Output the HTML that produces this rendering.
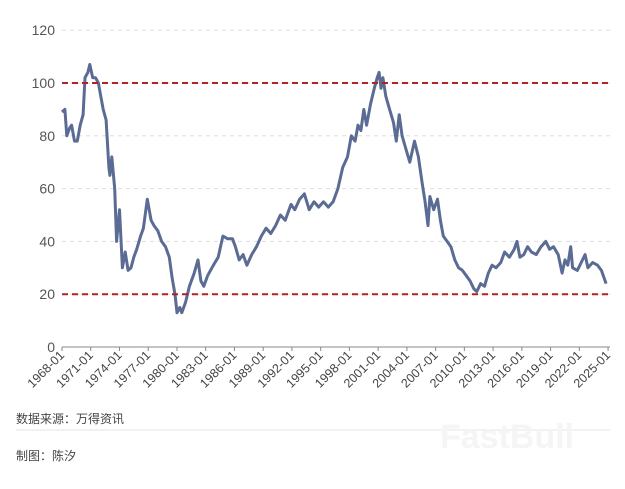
<!DOCTYPE html>
<html><head><meta charset="utf-8"><style>
body{margin:0;background:#fff;width:625px;height:484px;overflow:hidden;font-family:"Liberation Sans","Noto Sans CJK SC",sans-serif}
</style></head><body>
<svg id="s" width="625" height="484" xmlns="http://www.w3.org/2000/svg" font-family="Liberation Sans, Noto Sans CJK SC, sans-serif"></svg>
<script>
const s=document.getElementById('s');
const X=y=>62+(y-1968)*9.58, Y=v=>347-v*2.64;
let h='';
for(let v=0;v<=120;v+=20){
 if(v>0)h+=`<line x1="62" x2="610" y1="${Y(v)}" y2="${Y(v)}" stroke="#ddd" stroke-dasharray="4,4"/>`;
 h+=`<text x="55" y="${Y(v)+5}" font-size="14" fill="#555" text-anchor="end">${v}</text>`;
}
h+=`<line x1="62" x2="610" y1="347" y2="347" stroke="#888"/>`;
for(let y=1968;y<=2025;y+=3){const x=X(y);
 h+=`<line x1="${x}" x2="${x}" y1="347" y2="351" stroke="#888"/>`;
 h+=`<text transform="translate(${x+3},${356}) rotate(-45)" font-size="12.5" fill="#444" text-anchor="end">${y}-01</text>`;}
const d=[1968.0,89,1968.3,90,1968.5,80,1968.8,83,1969.0,84,1969.3,78,1969.6,78,1969.9,84,1970.2,88,1970.4,102,1970.7,104,1970.9,107,1971.2,102,1971.5,102,1971.8,100,1972.0,96,1972.3,90,1972.6,86,1972.9,68,1973.0,65,1973.2,72,1973.5,60,1973.7,40,1974.0,52,1974.3,30,1974.6,36,1974.9,29,1975.2,30,1975.5,34,1975.8,37,1976.2,42,1976.5,45,1976.9,56,1977.3,48,1977.6,46,1978.0,44,1978.4,40,1978.8,38,1979.2,34,1979.5,26,1979.8,20,1980.0,13,1980.3,15,1980.5,13,1980.9,17,1981.3,23,1981.8,28,1982.2,33,1982.5,25,1982.8,23,1983.2,27,1983.8,31,1984.3,34,1984.8,42,1985.3,41,1985.8,41,1986.1,38,1986.5,33,1986.9,35,1987.3,31,1987.8,35,1988.3,38,1988.8,42,1989.3,45,1989.8,43,1990.3,46,1990.8,50,1991.3,48,1991.9,54,1992.3,52,1992.8,56,1993.3,58,1993.8,52,1994.3,55,1994.8,53,1995.3,55,1995.8,53,1996.3,55,1996.8,60,1997.3,68,1997.8,72,1998.2,80,1998.6,78,1998.9,84,1999.2,82,1999.5,90,1999.8,84,2000.2,92,2000.6,98,2000.9,102,2001.1,104,2001.3,98,2001.5,102,2001.8,95,2002.2,90,2002.6,85,2002.9,78,2003.2,88,2003.5,80,2003.9,75,2004.3,70,2004.8,78,2005.2,72,2005.6,62,2005.9,55,2006.2,46,2006.4,57,2006.8,52,2007.2,56,2007.5,48,2007.8,42,2008.2,40,2008.6,38,2009.0,33,2009.4,30,2009.8,29,2010.2,27,2010.6,25,2011.0,22,2011.3,21,2011.7,24,2012.1,23,2012.5,28,2012.9,31,2013.3,30,2013.8,32,2014.2,36,2014.7,34,2015.2,37,2015.5,40,2015.8,34,2016.2,35,2016.6,38,2017.0,36,2017.5,35,2018.0,38,2018.5,40,2018.9,37,2019.3,38,2019.8,35,2020.2,28,2020.5,33,2020.8,31,2021.1,38,2021.3,30,2021.8,29,2022.2,32,2022.6,35,2022.9,30,2023.4,32,2023.9,31,2024.3,29,2024.8,24];
let p=[];for(let i=0;i<d.length;i+=2)p.push(X(d[i]).toFixed(1)+','+Y(d[i+1]).toFixed(1));
h+=`<polyline points="${p.join(' ')}" fill="none" stroke="#5a6b94" stroke-width="3" stroke-linejoin="round"/>`;
h+=`<line x1="62" x2="610" y1="${Y(100)}" y2="${Y(100)}" stroke="#b22222" stroke-width="2" stroke-dasharray="6,4"/>`;
h+=`<line x1="62" x2="610" y1="${Y(20)}" y2="${Y(20)}" stroke="#b22222" stroke-width="2" stroke-dasharray="6,4"/>`;
h+=`<text x="16" y="423" font-size="12" fill="#444">数据来源：万得资讯</text>`;
h+=`<line x1="16" x2="610" y1="430" y2="430" stroke="#e6e6e6"/>`;
h+=`<text x="16" y="460" font-size="12" fill="#444">制图：陈汐</text>`;
h+=`<text x="440" y="448" font-size="34" font-weight="bold" fill="#f5f5f5">FastBull</text>`;
s.innerHTML=h;
</script>
</body></html>
